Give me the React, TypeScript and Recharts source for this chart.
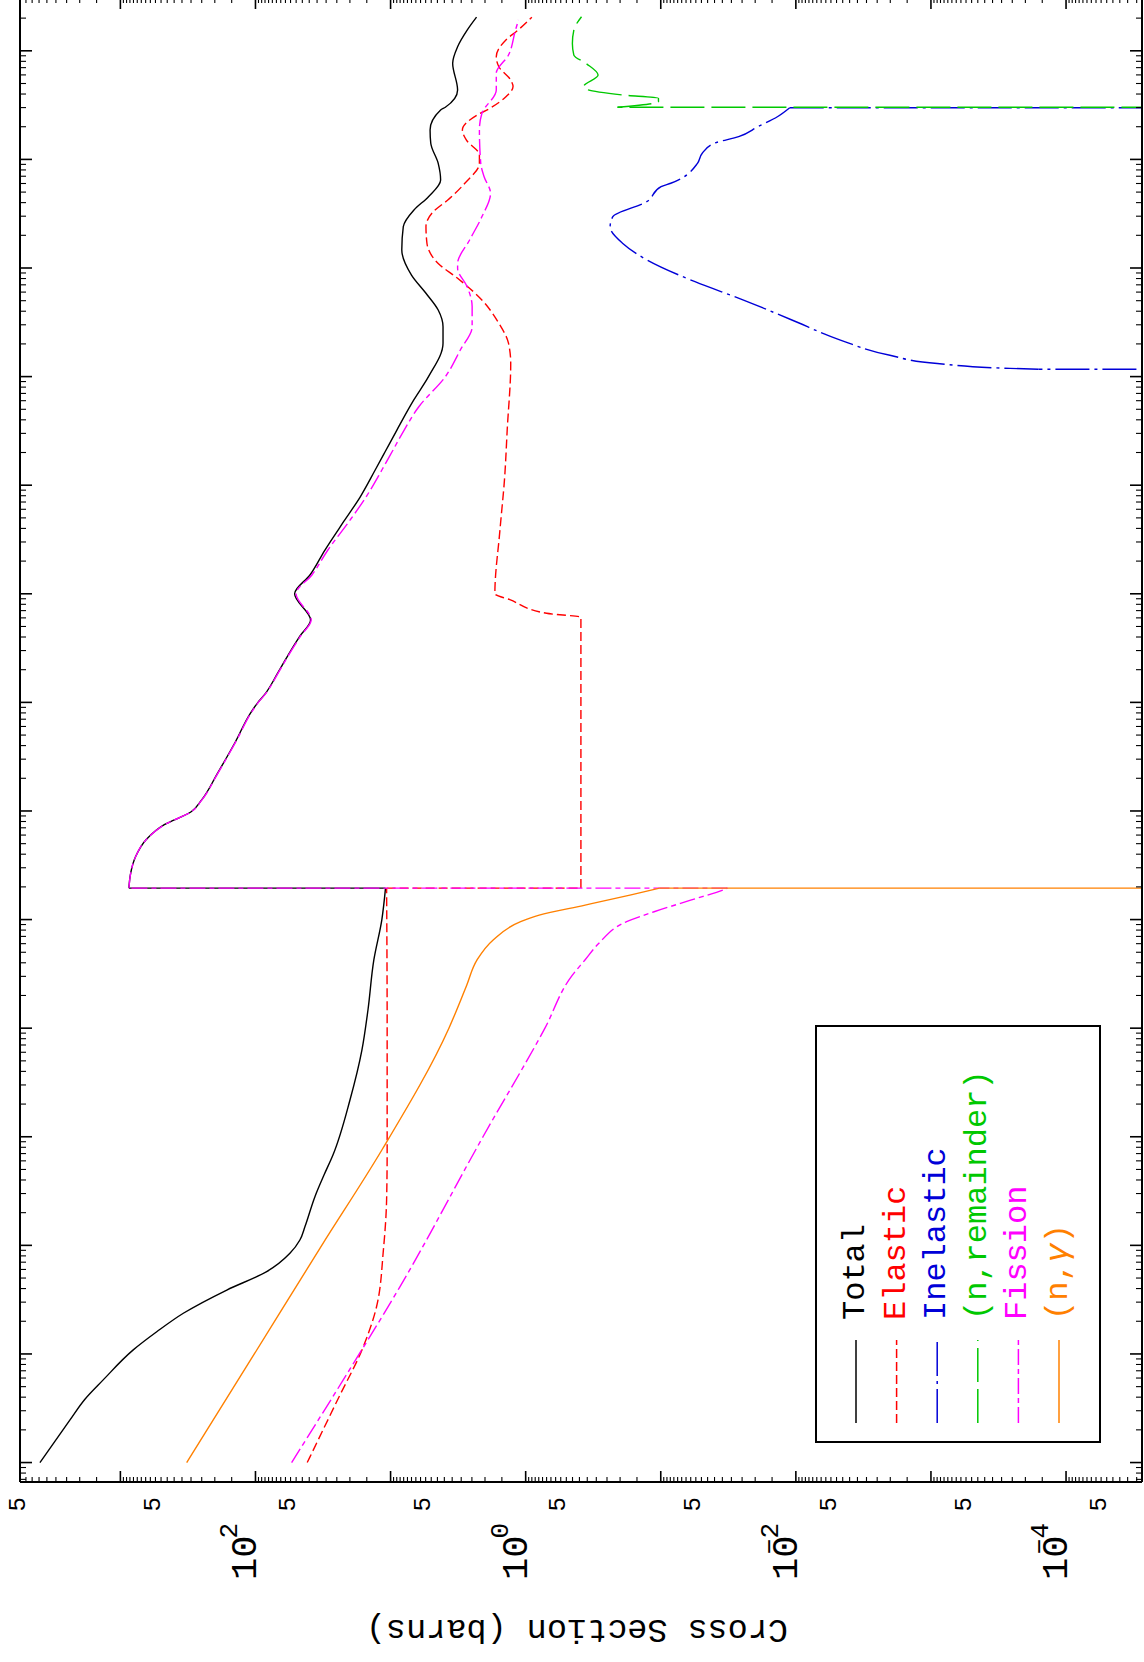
import React from 'react';
import { LineChart, Line, XAxis, YAxis, Legend } from 'recharts';

// ---------------- data: incident energy (eV) / cross section (barns) ----------------
const totalEnergy = [1e-5, 2.47e-5, 3.83e-5, 5.77e-5, 1.09e-4, 1.6e-4, 2.37e-4, 3.88e-4, 5.73e-4, 8.45e-4, 1.12e-3, 1.49e-3, 2.81e-3, 4.44e-3, 6.79e-3, 2.17e-2, 6.28e-2, 0.147, 0.425, 1.0, 1.95, 1.95, 2.6, 3.81, 5.47, 7.48, 9.79, 12.6, 22.0, 43.2, 81.1, 99.1, 119, 186, 274, 409, 573, 1000, 1490, 2530, 4790, 7780, 1.38e4, 2.02e4, 3.22e4, 6.1e4, 9.98e4, 2.03e5, 2.88e5, 4.1e5, 5.85e5, 8.61e5, 1.47e6, 2.4e6, 3.42e6, 4.54e6, 6.46e6, 9.2e6, 1.41e7, 1.87e7, 2.85e7, 3.02e7, 4.36e7, 7.67e7, 1.09e8, 1.55e8, 2.04e8];
const totalXS = [3940, 2360, 1830, 1340, 803, 538, 342, 163, 82.6, 55.6, 46.9, 43.0, 36.3, 31.1, 26.7, 20.0, 16.3, 14.7, 13.3, 11.6, 10.9, 865, 843, 771, 643, 473, 301, 251, 192, 141, 108, 96.4, 85.1, 68.5, 57.2, 46.8, 39.1, 51.3, 39.5, 30.6, 21.8, 16.8, 13.0, 11.0, 8.98, 6.73, 5.24, 4.09, 4.09, 4.44, 5.47, 7.0, 8.26, 8.05, 6.71, 5.24, 4.26, 4.44, 5.04, 5.1, 4.26, 3.93, 3.19, 3.47, 3.19, 2.71, 2.31];

const elasticEnergy = [1e-5, 3.77e-5, 1.17e-4, 2.72e-4, 9.08e-4, 2.62e-3, 7.55e-3, 0.1, 1.95, 1.95, 608, 661, 883, 1000, 3860, 1.19e4, 3.22e4, 1.32e5, 2.03e5, 3.1e5, 5.08e5, 8.04e5, 1.1e6, 1.69e6, 2.4e6, 3.3e6, 4.23e6, 6.03e6, 9.2e6, 1.1e7, 1.51e7, 1.87e7, 2.56e7, 2.92e7, 3.78e7, 4.68e7, 5.38e7, 7.14e7, 8.83e7, 1.26e8, 1.55e8, 2.04e8];
const elasticXS = [41.4, 24.7, 15.9, 12.7, 11.3, 10.7, 10.6, 10.6, 10.7, 0.39, 0.39, 0.7, 1.31, 1.69, 1.55, 1.43, 1.37, 1.29, 1.34, 1.58, 2.11, 3.19, 4.44, 5.38, 5.47, 4.83, 3.77, 2.82, 2.2, 2.2, 2.75, 2.94, 2.29, 1.87, 1.4, 1.24, 1.29, 1.58, 1.65, 1.4, 1.14, 0.9];

// 1e-8 stands for a zero value (below the axis, drawn to the frame edge)
const inelasticEnergy = [1.17e5, 1.17e5, 1.19e5, 1.32e5, 1.58e5, 2.17e5, 3.32e5, 5.07e5, 7.48e5, 1.19e6, 1.69e6, 2.4e6, 2.96e6, 4.08e6, 5.61e6, 6.03e6, 9.2e6, 1.14e7, 1.41e7, 1.62e7, 2.0e7, 2.47e7, 2.99e7, 2.99e7];
const inelasticXS = [1e-8, 1.6e-4, 2.6e-4, 8.97e-4, 2.05e-3, 4.68e-3, 1.07e-2, 2.44e-2, 5.58e-2, 0.127, 0.192, 0.237, 0.227, 0.127, 0.0995, 0.0843, 0.0535, 0.0493, 0.0401, 0.0265, 0.0191, 0.0137, 0.0111, 1e-8];

const remainderEnergy = [3.02e7, 3.02e7, 3.4e7, 3.66e7, 3.92e7, 4.36e7, 4.68e7, 5.98e7, 7.67e7, 9.14e7, 1.17e8, 1.55e8, 2.06e8];
const remainderXS = [1e-8, 0.209, 0.104, 0.104, 0.192, 0.344, 0.372, 0.291, 0.358, 0.44, 0.451, 0.44, 0.386];

const fissionEnergy = [1e-5, 5.77e-5, 4.17e-4, 1e-2, 0.1, 0.308, 0.424, 0.605, 0.957, 1.18, 1.51, 1.87, 1.95, 1.95, 2.6, 3.81, 5.47, 7.48, 9.79, 12.6, 22.0, 43.2, 81.1, 99.1, 119, 186, 274, 409, 573, 1000, 1490, 2530, 4790, 7780, 1.38e4, 2.02e4, 3.22e4, 5.28e4, 9.98e4, 1.74e5, 2.88e5, 4.41e5, 6.73e5, 9.93e5, 1.1e6, 1.81e6, 2.96e6, 4.88e6, 6.93e6, 9.2e6, 1.87e7, 2.65e7, 4.36e7, 6.21e7, 9.14e7, 1.55e8, 1.92e8];
const fissionXS = [54.0, 22.4, 8.51, 2.07, 0.72, 0.451, 0.364, 0.287, 0.179, 0.112, 0.0601, 0.0347, 0.0321, 864, 842, 770, 642, 472, 300, 250, 191, 140, 107, 95.9, 84.6, 68.0, 56.7, 46.3, 38.7, 50.1, 38.2, 29.1, 19.9, 15.2, 11.6, 9.77, 7.93, 6.18, 3.93, 3.06, 2.49, 2.49, 2.71, 3.19, 3.19, 2.6, 2.11, 1.82, 2.03, 2.15, 2.2, 2.11, 1.65, 1.65, 1.34, 1.19, 1.13];

const captureEnergy = [1e-5, 1e-4, 1e-3, 7.55e-3, 0.1, 0.246, 0.425, 0.649, 0.957, 1.1, 1.36, 1.69, 1.95, 1.95];
const captureXS = [323, 102, 32.3, 11.6, 3.7, 2.74, 2.29, 1.74, 1.09, 0.794, 0.363, 0.166, 0.102, 1e-8];

// axis ranges and tick label texts
const energyDomain = [6.62e-6, 3.0e8];
const xsDomain = [2.74e-5, 5534];
const energyDecades = [-6, -5, -4, -3, -2, -1, 0, 1, 2, 3, 4, 5, 6, 7, 8];
const energyMantissas = [1, 2, 3, 4, 5, 6, 7, 8, 9];
const xsDecades = [-5, -4, -3, -2, -1, 0, 1, 2, 3];
const xsMantissas = [1, 1.5, 2, 2.5, 3, 3.5, 4, 4.5, 5, 5.5, 6, 6.5, 7, 7.5, 8, 8.5, 9, 9.5];
const xsPowerLabels = [2, 0, -2, -4];
const xsFiveLabel = '5';
const yTitle = 'Cross Section (barns)';

type Pt = { e: number; s: number };
const rows = (es: number[], ss: number[]): Pt[] => es.map((e, i) => ({ e, s: ss[i] }));

const series = [
  { key: 'total', label: 'Total', color: '#000000', dash: undefined as string | undefined, data: rows(totalEnergy, totalXS) },
  { key: 'elastic', label: 'Elastic', color: '#ff0000', dash: '9 4', data: rows(elasticEnergy, elasticXS) },
  { key: 'inelastic', label: 'Inelastic', color: '#0000d8', dash: '34 5 3 5', data: rows(inelasticEnergy, inelasticXS) },
  { key: 'rem', label: '(n,remainder)', color: '#00c800', dash: '34 7', data: rows(remainderEnergy, remainderXS) },
  { key: 'fission', label: 'Fission', color: '#ff00ff', dash: '16 4 5 4', data: rows(fissionEnergy, fissionXS) },
  { key: 'capture', label: '(n,γ)', color: '#ff8000', dash: undefined as string | undefined, data: rows(captureEnergy, captureXS) },
];

// split a series into smooth pieces and vertical jumps (equal energies)
const splitSegments = (data: Pt[]) => {
  const segs: { pts: Pt[]; jump: boolean }[] = [];
  let cur: Pt[] = [data[0]];
  for (let i = 1; i < data.length; i++) {
    if (data[i].e === data[i - 1].e) {
      if (cur.length > 1) segs.push({ pts: cur, jump: false });
      segs.push({ pts: [data[i - 1], data[i]], jump: true });
      cur = [data[i]];
    } else {
      cur.push(data[i]);
    }
  }
  if (cur.length > 1) segs.push({ pts: cur, jump: false });
  return segs;
};

const energyTicks: number[] = [];
energyDecades.forEach((d) => energyMantissas.forEach((m) => {
  const v = m * Math.pow(10, d);
  if (v >= energyDomain[0] && v < energyDomain[1] * 0.999) energyTicks.push(v);
}));
const xsTicks: number[] = [];
xsDecades.forEach((d) => xsMantissas.forEach((m) => {
  const v = m * Math.pow(10, d);
  if (v >= xsDomain[0] && v < xsDomain[1]) xsTicks.push(v);
}));

// ---------------- layout (chart drawn in its own orientation, then turned) ----------------
const CW = 1664;
const CH = 1144;
const PLOT = { left: 180, right: 1663, top: 20, bottom: 1142 };
const FONT = '"Liberation Mono", "DejaVu Sans Mono", monospace';

const isDecade = (v: number) => {
  const l = Math.log10(v);
  return Math.abs(l - Math.round(l)) < 1e-6;
};
const mantissa = (v: number) => v / Math.pow(10, Math.floor(Math.log10(v) + 1e-9));

const energyTickBottom = (p: any) => {
  const major = isDecade(p.payload.value);
  return <line x1={p.x} x2={p.x} y1={PLOT.bottom} y2={PLOT.bottom - (major ? 12 : 6)} stroke="#000" strokeWidth={major ? 1.6 : 1.1} />;
};
const energyTickTop = (p: any) => {
  const major = isDecade(p.payload.value);
  return <line x1={p.x} x2={p.x} y1={PLOT.top} y2={PLOT.top + (major ? 12 : 6)} stroke="#000" strokeWidth={major ? 1.6 : 1.1} />;
};
const xsTickRight = (p: any) => {
  const major = isDecade(p.payload.value);
  return <line x1={PLOT.right} x2={PLOT.right - (major ? 10 : 4)} y1={p.y} y2={p.y} stroke="#000" strokeWidth={major ? 1.6 : 1.1} />;
};
const xsTickLeft = (p: any) => {
  const v = p.payload.value;
  const y = p.y;
  const major = isDecade(v);
  const els: any[] = [
    <line key="l" x1={PLOT.left} x2={PLOT.left + (major ? 11 : 5)} y1={y} y2={y} stroke="#000" strokeWidth={major ? 1.6 : 1.1} />,
  ];
  if (Math.abs(mantissa(v) - 5) < 1e-6) {
    els.push(<text key="f" x={165} y={y - 1} textAnchor="end" fontSize={24} fontFamily={FONT} fill="#000">{xsFiveLabel}</text>);
  }
  if (major) {
    const n = Math.round(Math.log10(v));
    if (xsPowerLabels.indexOf(n) >= 0) {
      els.push(<text key="b" x={82} y={y + 1} fontSize={37} fontFamily={FONT} fill="#000">10</text>);
      els.push(<text key="e" x={139} y={y - 18} textAnchor="end" fontSize={26} fontFamily={FONT} fill="#000">{n < 0 ? '\u2212' + String(-n) : String(n)}</text>);
    }
  }
  return <g>{els}</g>;
};

const AxisTitle = () => (
  <text x={42} y={577} transform="rotate(-90 42 577)" textAnchor="middle" fontSize={33.5} fontFamily={FONT} fill="#000">{yTitle}</text>
);

const LEG = { left: 219, top: 815, width: 418, height: 286 };
const LegendBox = () => (
  <svg width={LEG.width} height={LEG.height} style={{ display: 'block', overflow: 'visible' }}>
    <rect x={1} y={1} width={LEG.width - 2} height={LEG.height - 2} fill="#fff" stroke="#000" strokeWidth={2} />
    {series.map((s, i) => {
      const cy = 41 + i * 40.6;
      const parts = s.label.split('γ');
      return (
        <g key={s.key}>
          <line x1={20} x2={103} y1={cy} y2={cy} stroke={s.color} strokeWidth={1.5} strokeDasharray={s.dash} />
          <text x={123} y={cy + 8} fill={s.color} fontSize={32} fontFamily={FONT}>
            {parts.length > 1 ? (
              <>
                {parts[0]}
                <tspan fontStyle="italic">γ</tspan>
                {parts[1]}
              </>
            ) : s.label}
          </text>
        </g>
      );
    })}
  </svg>
);

export default function App() {
  return (
    <div style={{ position: 'absolute', left: 0, top: 0, width: 1144, height: 1662, overflow: 'hidden', background: '#fff' }}>
      <div
        style={{
          position: 'absolute', left: 0, top: 0, width: CW, height: CH,
          transformOrigin: '0 0', transform: 'translate(0px, 1662px) rotate(-90deg)',
        }}
      >
        <LineChart width={CW} height={CH} margin={{ top: 19, right: 0, bottom: 1, left: 0 }}>
          <XAxis
            xAxisId={0} type="number" dataKey="e" scale="log" domain={energyDomain} allowDataOverflow
            ticks={energyTicks} interval={0} tick={energyTickBottom} tickLine={false}
            axisLine={{ stroke: '#000', strokeWidth: 2 }} height={1}
          />
          <XAxis
            xAxisId="t" orientation="top" type="number" dataKey="e" scale="log" domain={energyDomain} allowDataOverflow
            ticks={energyTicks} interval={0} tick={energyTickTop} tickLine={false}
            axisLine={{ stroke: '#000', strokeWidth: 2 }} height={1}
          />
          <YAxis
            yAxisId={0} type="number" scale="log" domain={xsDomain} allowDataOverflow
            ticks={xsTicks} interval={0} tick={xsTickLeft} tickLine={false}
            axisLine={{ stroke: '#000', strokeWidth: 2 }} width={180} label={<AxisTitle />}
          />
          <YAxis
            yAxisId="r" orientation="right" type="number" scale="log" domain={xsDomain} allowDataOverflow
            ticks={xsTicks} interval={0} tick={xsTickRight} tickLine={false}
            axisLine={{ stroke: '#000', strokeWidth: 2 }} width={1}
          />
          {series.map((s) =>
            splitSegments(s.data).map((seg, j) => (
              <Line
                key={s.key + '-' + j} xAxisId={0} yAxisId={0} data={seg.pts} dataKey="s" name={s.label}
                type={seg.jump ? 'linear' : 'monotone'} stroke={s.color} strokeWidth={1.4} strokeDasharray={s.dash}
                dot={false} activeDot={false} isAnimationActive={false} legendType="none"
              />
            ))
          )}
          <Legend
            content={() => <LegendBox />}
            layout="horizontal" verticalAlign="middle" align="center"
            wrapperStyle={{ left: LEG.left, top: LEG.top, width: LEG.width, height: LEG.height }}
          />
        </LineChart>
      </div>
    </div>
  );
}
